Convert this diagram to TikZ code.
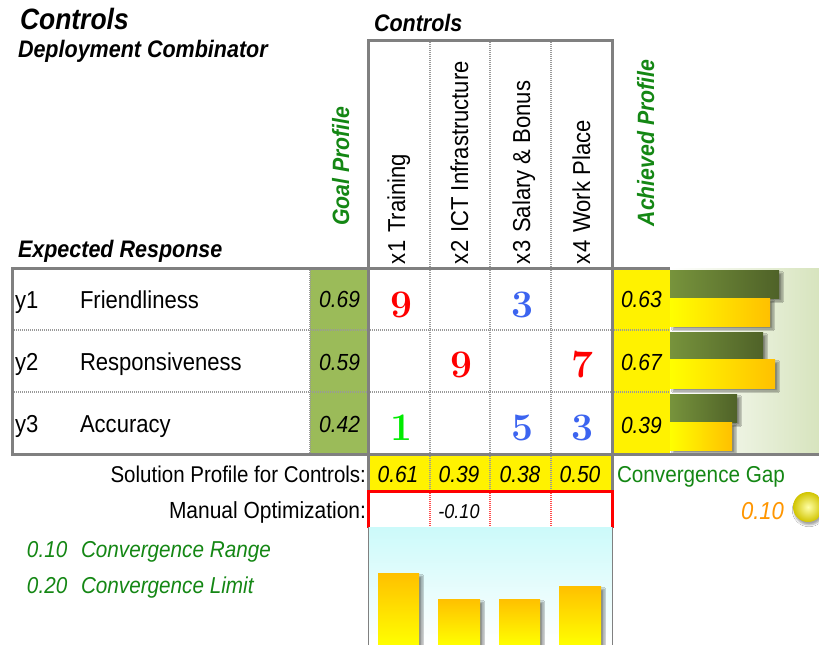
\documentclass[tikz,border=0pt]{standalone}
\usepackage{fontspec}
\newfontfamily\arial[FakeStretch=0.9]{Liberation Sans}
\usetikzlibrary{shadows.blur}
\newcommand\myfs[1]{\fontsize{#1}{#1}\selectfont}
\definecolor{gridgray}{RGB}{128,128,128}
\definecolor{goalgreen}{RGB}{155,187,89}
\definecolor{txtgreen}{RGB}{20,135,20}
\definecolor{darkolive}{RGB}{79,98,40}
\definecolor{olivebar}{RGB}{119,147,60}
\definecolor{goldbar}{RGB}{255,192,0}
\definecolor{numblue}{RGB}{60,100,240}
\definecolor{numgreen}{RGB}{0,235,0}
\definecolor{orangetxt}{RGB}{255,150,0}
\definecolor{palegreen}{RGB}{215,228,190}
\definecolor{palecyan}{RGB}{204,250,250}
\begin{document}
\begin{tikzpicture}[x=1pt,y=-1pt,
  every node/.style={inner sep=0pt, outer sep=0pt},
  frame/.style={draw=gridgray, line width=3pt},
  dotline/.style={draw=gray!80, line width=1.2pt, dash pattern=on 1pt off 1pt},
  reddot/.style={draw=red!70, line width=1.2pt, dash pattern=on 1pt off 1pt},
  hdr/.style={font=\arial\bfseries\itshape\myfs{23.9}},
  ghdr/.style={font=\arial\bfseries\itshape\myfs{23.6}, text=txtgreen},
  txt/.style={font=\arial\myfs{23.3}},
  rowtxt/.style={font=\arial\myfs{24.5}},
  coltxt/.style={font=\arial\myfs{24.5}, rotate=90, anchor=base west},
  itnum/.style={font=\arial\itshape\myfs{23.3}},
  bignum/.style={font=\rmfamily\bfseries\myfs{39}, anchor=base},
  shd/.style={blur shadow={shadow xshift=3pt, shadow yshift=-3pt, shadow blur steps=6, shadow opacity=45}},
  gbar/.style={shd, left color=olivebar, right color=darkolive},
  ybar/.style={shd, left color=yellow, right color=goldbar},
  cbar/.style={shd, top color=goldbar, bottom color=yellow}
]
\clip (0,0) rectangle (819,645);
\fill[white] (0,0) rectangle (819,645);

% fills
\fill[goalgreen] (310,268) rectangle (368,454);
\fill[yellow] (612,268) rectangle (670,454);
\shade[left color=white, right color=palegreen] (670,268) rectangle (819,454);
\fill[yellow] (368,454) rectangle (612,490);

% achieved bars
\shade[gbar] (670,270) rectangle (779,298);
\shade[ybar] (670,298) rectangle (770,326);
\shade[gbar] (670,332) rectangle (763,359);
\shade[ybar] (670,359) rectangle (775,388);
\shade[gbar] (670,394) rectangle (737,422);
\shade[ybar] (670,422) rectangle (732,450);

% dotted grid
\foreach \x in {430,490,551} \draw[dotline] (\x,40) -- (\x,490);
\draw[dotline] (310,268) -- (310,454);
\foreach \y in {330,392} \draw[dotline] (12,\y) -- (670,\y);
\foreach \x in {430,490,551} \draw[reddot] (\x,491) -- (\x,527);

% frames
\draw[frame] (368,490) -- (368,40) -- (612,40) -- (612,490);
\draw[frame] (670,268) -- (12,268) -- (12,454) -- (819,454);
\draw[red, line width=3pt] (368,528) -- (368,491) -- (612,491) -- (612,528);

% chart
\shade[top color=palecyan, bottom color=white] (368,527) rectangle (612,645);
\draw[gridgray, line width=1pt] (368,527) -- (368,645) (612,527) -- (612,645);
\shade[cbar] (378,573) rectangle (419,645);
\shade[cbar] (438,599) rectangle (480,645);
\shade[cbar] (499,599) rectangle (540,645);
\shade[cbar] (559,586) rectangle (601,645);

% titles
\node[hdr, font=\arial\bfseries\itshape\myfs{29.4}, anchor=base west] (title) at (20,29) {Controls};
\node[hdr, anchor=base west] (combi) at (18,57) {Deployment Combinator};
\node[hdr, anchor=base west] (ctrl) at (374,31) {Controls};
\node[hdr, anchor=base west] (expresp) at (18,257) {Expected Response};
\node[ghdr, rotate=90, anchor=base] (goal) at (349,166) {Goal Profile};
\node[ghdr, rotate=90, anchor=base] (ach) at (654,143) {Achieved Profile};

% column headers
\node[coltxt] (x1) at (405,264) {x1\hspace{8pt}Training};
\node[coltxt] (x2) at (468,264) {x2\hspace{8pt}ICT Infrastructure};
\node[coltxt] (x3) at (530,264) {x3\hspace{8pt}Salary \& Bonus};
\node[coltxt] (x4) at (590,264) {x4\hspace{8pt}Work Place};

% rows
\node[rowtxt, anchor=base west] (y1) at (15,308) {y1};
\node[rowtxt, anchor=base west] (r1) at (80,308) {Friendliness};
\node[rowtxt, anchor=base west] (y2) at (15,370) {y2};
\node[rowtxt, anchor=base west] (r2) at (80,370) {Responsiveness};
\node[rowtxt, anchor=base west] (y3) at (15,432) {y3};
\node[rowtxt, anchor=base west] (r3) at (80,432) {Accuracy};

\node[itnum, anchor=base east] (g1) at (360,307) {0.69};
\node[itnum, anchor=base east] (g2) at (360,370) {0.59};
\node[itnum, anchor=base east] (g3) at (360,432) {0.42};

\node[itnum, anchor=base west] (a1) at (621,307) {0.63};
\node[itnum, anchor=base west] (a2) at (621,370) {0.67};
\node[itnum, anchor=base west] (a3) at (621,433) {0.39};

% matrix
\node[bignum, text=red] (m11) at (401,317) {9};
\node[bignum, text=numblue] (m13) at (522,317) {3};
\node[bignum, text=red] (m22) at (461,377) {9};
\node[bignum, text=red] (m24) at (582,377) {7};
\node[bignum, text=numgreen] (m31) at (401,440) {1};
\node[bignum, text=numblue] (m33) at (522,440) {5};
\node[bignum, text=numblue] (m34) at (582,440) {3};

% solution row
\node[txt, font=\arial\myfs{22.8}, anchor=base east] (sollab) at (366,482) {Solution Profile for Controls:};
\node[itnum, anchor=base] (s1) at (398,482) {0.61};
\node[itnum, anchor=base] (s2) at (459,482) {0.39};
\node[itnum, anchor=base] (s3) at (520,482) {0.38};
\node[itnum, anchor=base] (s4) at (580,482) {0.50};
\node[txt, font=\arial\myfs{23}, text=txtgreen, anchor=base west] (gap) at (617,482) {Convergence Gap};

% manual row
\node[txt, anchor=base east] (manlab) at (366,518) {Manual Optimization:};
\node[itnum, font=\arial\itshape\myfs{20}, anchor=base] (man2) at (459,518) {-0.10};
\node[itnum, font=\arial\itshape\myfs{24.5}, text=orangetxt, anchor=base east] (gapval) at (784,519) {0.10};
\shade[inner color=yellow!35!white, outer color=yellow!80!black!90!orange, blur shadow={shadow xshift=1pt, shadow yshift=-3pt, shadow blur steps=5, shadow opacity=35}] (808,507) circle (15);

% left notes
\node[itnum, font=\arial\itshape\myfs{23}, text=txtgreen, anchor=base west] (n1) at (27,557) {0.10};
\node[itnum, font=\arial\itshape\myfs{23}, text=txtgreen, anchor=base west] (n1t) at (81,557) {Convergence Range};
\node[itnum, font=\arial\itshape\myfs{23}, text=txtgreen, anchor=base west] (n2) at (27,593) {0.20};
\node[itnum, font=\arial\itshape\myfs{23}, text=txtgreen, anchor=base west] (n2t) at (81,593) {Convergence Limit};
\end{tikzpicture}
\end{document}
